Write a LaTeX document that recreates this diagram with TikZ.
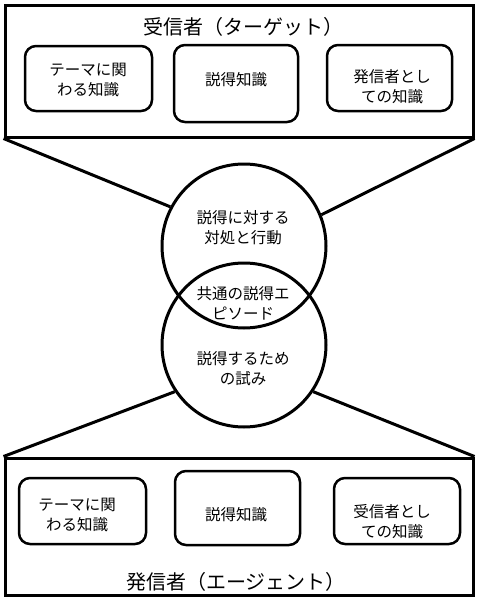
\documentclass[tikz,border=0pt]{standalone}
\usepackage{fontspec}
\newfontfamily\jp{Noto Sans CJK JP}
\begin{document}
\begin{tikzpicture}[x=1pt,y=-1pt,
  outer/.style={draw, line width=3pt, minimum width=468pt, inner sep=0pt},
  ibox/.style={draw, line width=2.5pt, rounded corners=11pt, inner sep=0pt},
  circ/.style={draw, circle, line width=3pt, minimum size=164pt, inner sep=0pt},
  txt/.style={font=\jp\fontsize{15.5}{20}\selectfont, align=center, inner sep=0pt},
  ttl/.style={font=\jp\fontsize{20}{24}\selectfont, inner sep=0pt},
  conn/.style={line width=3pt}]
\useasboundingbox (0,0) rectangle (478,608);
% outer boxes
\node[outer, minimum height=132pt] (tbox) at (239,71) {};
\node[outer, minimum height=137pt] (bbox) at (239,526.5) {};
% titles
\node[ttl] (ttitle) at (243,27) {受信者（ターゲット）};
\node[ttl] (btitle) at (236,582) {発信者（エージェント）};
% top inner boxes
\node[ibox, minimum width=127pt, minimum height=65pt] (t1) at (88.5,78.5) {};
\node[ibox, minimum width=124pt, minimum height=77pt] (t2) at (236,83.5) {};
\node[ibox, minimum width=125pt, minimum height=66pt] (t3) at (389.5,78) {};
\node[txt] (t1t) at (88,80) {テーマに関\\わる知識};
\node[txt] (t2t) at (236,80) {説得知識};
\node[txt] (t3t) at (392,87) {発信者とし\\ての知識};
% bottom inner boxes
\node[ibox, minimum width=127pt, minimum height=66pt] (b1) at (82.5,511) {};
\node[ibox, minimum width=125pt, minimum height=74pt] (b2) at (237.5,508) {};
\node[ibox, minimum width=126pt, minimum height=66pt] (b3) at (397,511) {};
\node[txt] (b1t) at (77,515) {テーマに関\\わる知識};
\node[txt] (b2t) at (236,515) {説得知識};
\node[txt] (b3t) at (392,522) {受信者とし\\ての知識};
% circles
\node[circ] (c1) at (244,246) {};
\node[circ] (c2) at (244,345) {};
\node[txt] (c1t) at (243,228) {説得に対する\\対処と行動};
\node[txt] (c12t) at (243,303) {共通の説得エ\\ピソード};
\node[txt] (c2t) at (243,369) {説得するため\\の試み};
% connectors
\draw[conn] (tbox.south west) -- (c1.152);
\draw[conn] (tbox.south east) -- (c1.22);
\draw[conn] (bbox.north west) -- (c2.214);
\draw[conn] (bbox.north east) -- (c2.326);
\end{tikzpicture}
\end{document}
